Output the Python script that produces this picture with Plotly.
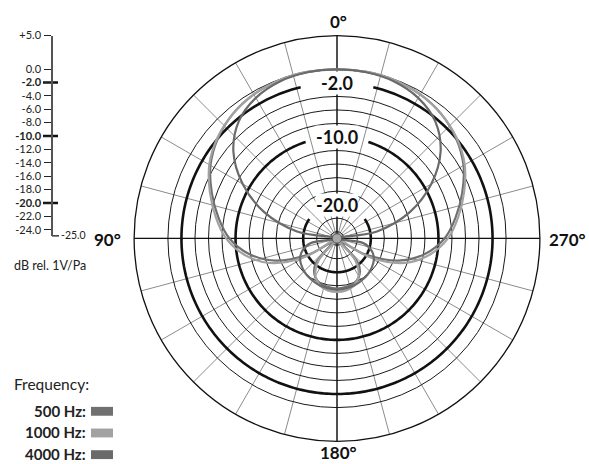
import numpy as np
import plotly.graph_objects as go

W, H = 589, 464
CX, CY, RPX = 337, 235, 206          # polar centre / outer radius in px
RMIN, RMAX = -25, 5

# ---------------- data ----------------
angles = list(range(0, 361, 10))

hz500 = [0, 0, -0.1, -0.4, -1.0, -2.0, -3.4, -5.3, -7.2, -9.1, -11.8, -15.4,
         -20.5, -24.0, -20.0, -18.5, -17.9, -17.7, -17.6,
         -17.7, -17.9, -18.5, -20.0, -24.0, -20.5, -15.4, -11.8, -9.1, -7.2,
         -5.3, -3.4, -2.0, -1.0, -0.4, -0.1, 0, 0]

hz1000 = [0, 0, -0.1, -0.4, -1.0, -1.9, -3.2, -5.0, -6.8, -8.6, -11.1, -14.4,
          -19.6, -25.0, -20.8, -18.6, -17.6, -17.2, -17.1,
          -17.2, -17.6, -18.6, -20.8, -25.0, -19.6, -14.4, -11.1, -8.6, -6.8,
          -5.0, -3.2, -1.9, -1.0, -0.4, -0.1, 0, 0]

hz4000 = [0, -0.05, -0.3, -1.0, -2.4, -5.0, -8.9, -13.5, -19.0, -25.0, -21.0, -19.5,
          -18.7, -18.3, -18.0, -17.8, -17.6, -17.5, -17.4,
          -17.5, -17.6, -17.8, -18.0, -18.3, -18.7, -19.5, -21.0, -25.0, -19.0,
          -13.5, -8.9, -5.0, -2.4, -1.0, -0.3, -0.05, 0]

series_names = ["500 Hz", "1000 Hz", "4000 Hz"]
series_values = [hz500, hz1000, hz4000]
series_colors = ["#707070", "#a2a2a2", "#6a6a6a"]

thin_rings = [-24, -22, -18, -16, -14, -12, -8, -6, -4, 0]
bold_rings = [-2, -10, -20]
bold_gaps = [13.5, 18, 55]

scale_ticks = [5, 0, -2, -4, -6, -8, -10, -12, -14, -16, -18, -20, -22, -24]
scale_text = ["+5.0", "0.0", "<b>-2.0</b>", "-4.0", "-6.0", "-8.0", "<b>-10.0</b>",
              "-12.0", "-14.0", "-16.0", "-18.0", "<b>-20.0</b>", "-22.0", "-24.0"]

spoke_angles = list(range(0, 360, 15))
angle_labels = ["0°", "90°", "180°", "270°"]

FONT = "Lato"


def px_x(x):
    return x / W


def px_y(y):
    return (H - y) / H


fig = go.Figure()

# ---------------- polar grid decorations ----------------
t = np.linspace(0, 360, 361)
for lvl, g in zip(bold_rings, bold_gaps):
    tt = np.linspace(g, 360 - g, 300)
    fig.add_trace(go.Scatterpolar(r=np.full(tt.size, lvl), theta=tt, mode="lines",
                                  line=dict(color="#111111", width=2.6),
                                  hoverinfo="skip", showlegend=False))
for a in (0, 90):
    fig.add_trace(go.Scatterpolar(r=[RMAX, RMIN, RMAX], theta=[a, a, a + 180],
                                  mode="lines", line=dict(color="#111111", width=1.3),
                                  hoverinfo="skip", showlegend=False))

# ---------------- patterns ----------------
for name, vals, col in zip(series_names, series_values, series_colors):
    fig.add_trace(go.Scatterpolar(r=vals, theta=angles, mode="lines", name=name,
                                  line=dict(color=col, width=2.2, shape="spline",
                                            smoothing=1.0),
                                  showlegend=False))

fig.add_trace(go.Scatterpolar(r=np.full(t.size, -24.3), theta=t, mode="lines",
                              fill="toself", fillcolor="#a8a8a8",
                              line=dict(color="#444444", width=1),
                              hoverinfo="skip", showlegend=False))

# ---------------- left dB scale ----------------
fig.add_trace(go.Scatter(
    x=[-9, 6, None, -9, 6, None, -9, 6, None, 0, 7],
    y=[-2, -2, None, -10, -10, None, -20, -20, None, -25, -25],
    mode="lines", line=dict(color="#111111", width=2.4),
    xaxis="x", yaxis="y", hoverinfo="skip", showlegend=False, cliponaxis=False))
fig.add_trace(go.Scatter(
    x=[9], y=[-25], mode="text", text=["-25.0"], textposition="middle right",
    textfont=dict(family=FONT, size=10.5, color="#222222"),
    xaxis="x", yaxis="y", hoverinfo="skip", showlegend=False, cliponaxis=False))

fig.update_layout(
    width=W, height=H,
    margin=dict(l=0, r=0, t=0, b=0),
    paper_bgcolor="white", plot_bgcolor="rgba(0,0,0,0)",
    font=dict(family=FONT, color="#111111"),
    xaxis=dict(domain=[0, 177 / W], range=[-52, 125], visible=False, fixedrange=True),
    yaxis=dict(domain=[px_y(233), px_y(29)], range=[RMIN, RMAX], anchor="free",
               position=px_x(52), showline=True, linecolor="#555555", linewidth=1.5,
               ticks="outside", ticklen=7, tickwidth=1, tickcolor="#222222",
               tickvals=scale_ticks, ticktext=scale_text, showgrid=False,
               zeroline=False, tickfont=dict(family=FONT, size=11, color="#222222"),
               ticklabelstandoff=1),
    polar=dict(
        domain=dict(x=[px_x(CX - RPX), px_x(CX + RPX)], y=[px_y(CY + RPX), px_y(CY - RPX)]),
        bgcolor="white",
        radialaxis=dict(range=[RMIN, RMAX], tickvals=thin_rings, showticklabels=False,
                        ticks="", showline=False, gridcolor="#1a1a1a", gridwidth=1),
        angularaxis=dict(rotation=90, direction="counterclockwise",
                         tickvals=spoke_angles, showticklabels=False,
                         ticks="", gridcolor="#8c8c8c", gridwidth=1,
                         linecolor="#111111", linewidth=1.3),
    ),
)

# angle labels outside the circle (0° top, 90° left, 180° bottom, 270° right)
label_pos = [(CX + 1, 15, "center"), (123, 236, "right"), (CX + 1, 452, "center"),
             (547, 236, "left")]
for txt, (lx, ly, anc) in zip(angle_labels, label_pos):
    fig.add_annotation(x=px_x(lx), y=px_y(ly), xref="paper", yref="paper",
                       text="<b>%s</b>" % txt, showarrow=False, xanchor=anc,
                       yanchor="middle", font=dict(family=FONT, size=17, color="#111111"))

for lvl in bold_rings:
    rp = (lvl - RMIN) / (RMAX - RMIN) * RPX
    fig.add_annotation(x=px_x(CX), y=px_y(CY - rp), xref="paper", yref="paper",
                       text="<b>%.1f</b>" % lvl, showarrow=False, bgcolor="white",
                       borderpad=0, xanchor="center", yanchor="middle",
                       font=dict(family=FONT, size=18, color="#111111"))

fig.add_annotation(x=px_x(12), y=px_y(262), xref="paper", yref="paper",
                   text="dB rel. 1V/Pa", showarrow=False, xanchor="left",
                   yanchor="middle", font=dict(family=FONT, size=12.5, color="#222222"))

fig.add_annotation(x=px_x(12), y=px_y(383), xref="paper", yref="paper",
                   text="Frequency:", showarrow=False, xanchor="left", yanchor="middle",
                   font=dict(family=FONT, size=15.5, color="#222222"))
for i, (name, col) in enumerate(zip(series_names, series_colors)):
    yc = 410 + i * 22
    fig.add_annotation(x=px_x(88), y=px_y(yc), xref="paper", yref="paper",
                       text="<b>%s:</b>" % name, showarrow=False, xanchor="right",
                       yanchor="middle", font=dict(family=FONT, size=15, color="#222222"))
    fig.add_shape(type="rect", xref="paper", yref="paper",
                  x0=px_x(91), x1=px_x(113), y0=px_y(yc + 5), y1=px_y(yc - 4),
                  fillcolor=col, line=dict(width=0))

fig.write_html("out.html", config={"displayModeBar": False},
               post_script="document.body.style.margin='0px';"
                           "document.body.style.overflow='hidden';")
